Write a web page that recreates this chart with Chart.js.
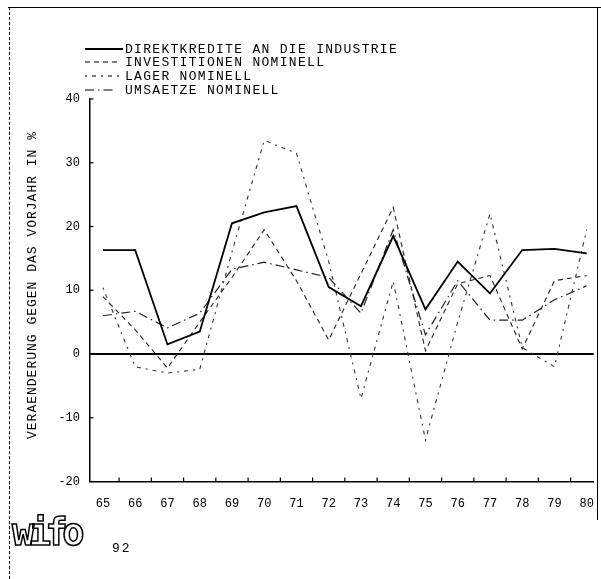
<!DOCTYPE html>
<html><head><meta charset="utf-8">
<script src="https://cdn.jsdelivr.net/npm/chart.js@4/dist/chart.umd.min.js"></script>
<style>
html,body{margin:0;padding:0;background:#fff;}
#wrap{position:relative;width:601px;height:579px;overflow:hidden;background:#fff;}
#c{position:absolute;left:0;top:0;}
.ft{position:absolute;left:8px;top:7px;width:593px;height:0;border-top:1.5px solid #000;}
.fl{position:absolute;left:9px;top:7px;width:0;height:572px;border-left:1px dashed #000;}
.fr{position:absolute;left:597px;top:7px;width:0;height:513px;border-left:1px solid #000;}
#logo{position:absolute;left:12px;top:511px;font:bold 37px "DejaVu Sans Mono";letter-spacing:-5.5px;color:#fff;-webkit-text-stroke:1.5px #000;line-height:44px;}
#page{position:absolute;left:112px;top:541px;font:13px "Liberation Mono";letter-spacing:2px;color:#000;line-height:16px;}
</style></head><body>
<div id="wrap">
<canvas id="c" width="601" height="579"></canvas>
<div class="ft"></div><div class="fl"></div><div class="fr"></div>
<div id="logo">wifo</div>
<div id="page">92</div>
</div>
<script>
// ---- data ----
const years = [1965,1966,1967,1968,1969,1970,1971,1972,1973,1974,1975,1976,1977,1978,1979,1980];
const xTickLabels = ['65','66','67','68','69','70','71','72','73','74','75','76','77','78','79','80'];
const yTickValues = [40,30,20,10,0,-10,-20];
const direktkredite = [16.3,16.3,1.5,3.5,20.5,22.2,23.2,10.5,7.5,18.5,7.0,14.5,9.5,16.3,16.5,15.8];
const investitionen = [9.0,3.8,-2.2,5.0,12.0,19.5,11.5,2.2,12.6,23.0,0.5,11.0,12.3,0.8,11.5,12.3];
const lager = [10.4,-2.0,-3.0,-2.4,16.0,33.5,31.5,14.5,-7.0,11.4,-13.5,5.0,22.0,1.0,-2.0,19.5];
const umsaetze = [6.0,6.7,4.1,6.4,13.3,14.4,13.2,12.0,6.4,19.5,3.0,11.5,5.3,5.3,8.5,10.7];
const seriesNames = ['DIREKTKREDITE AN DIE INDUSTRIE','INVESTITIONEN NOMINELL','LAGER NOMINELL','UMSAETZE NOMINELL'];
const yTitle = 'VERAENDERUNG GEGEN DAS VORJAHR IN %';

const pts = arr => arr.map((v,i)=>({x:years[i], y:v}));
const MONO = '"Liberation Mono", "DejaVu Sans Mono", monospace';

const decor = {
  id:'decor',
  afterDraw(chart){
    const ctx = chart.ctx, ca = chart.chartArea;
    const xs = chart.scales.x, ys = chart.scales.y;
    ctx.save();
    ctx.strokeStyle = '#000'; ctx.lineWidth = 1.2; ctx.setLineDash([]);
    // inward tick marks
    yTickValues.forEach(v=>{ const p = ys.getPixelForValue(v); ctx.beginPath(); ctx.moveTo(ca.left, p); ctx.lineTo(ca.left+3.5, p); ctx.stroke(); });
    for (let i=0;i<years.length-1;i++){ const p = xs.getPixelForValue(years[i]+0.5); ctx.beginPath(); ctx.moveTo(p, ca.bottom); ctx.lineTo(p, ca.bottom-4); ctx.stroke(); }
    // y title
    ctx.fillStyle = '#000';
    ctx.font = '13px ' + MONO;
    ctx.letterSpacing = '1px';
    ctx.textAlign = 'center'; ctx.textBaseline = 'middle';
    ctx.translate(33, 285); ctx.rotate(-Math.PI/2);
    ctx.fillText(yTitle, 0, 0);
    ctx.restore();
    // legend
    ctx.save();
    const rows = [49, 62, 76, 90];
    const ends = [123, 121, 121, 116];
    chart.data.datasets.forEach((ds,i)=>{
      ctx.strokeStyle = '#000'; ctx.lineWidth = ds.borderWidth;
      ctx.setLineDash(ds.borderDash || []);
      ctx.beginPath(); ctx.moveTo(85, rows[i]); ctx.lineTo(ends[i], rows[i]); ctx.stroke();
      ctx.setLineDash([]);
      ctx.fillStyle = '#000';
      ctx.font = '13px ' + MONO;
      ctx.letterSpacing = '1.3px';
      ctx.textAlign = 'left'; ctx.textBaseline = 'middle';
      ctx.fillText(seriesNames[i], 125, rows[i]+1);
    });
    ctx.restore();
  }
};

const X0 = 1965, PXPERYEAR = 32.33, LEFT = 90, RIGHT = 595, FIRSTPX = 103;
const xmin = X0 - (FIRSTPX-LEFT)/PXPERYEAR;
const xmax = X0 + (RIGHT-FIRSTPX)/PXPERYEAR;

new Chart(document.getElementById('c'), {
  type:'line',
  data:{ datasets:[
    {label:seriesNames[0], data:pts(direktkredite), borderColor:'#000', borderWidth:1.8, borderDash:[]},
    {label:seriesNames[1], data:pts(investitionen), borderColor:'#222', borderWidth:1.1, borderDash:[5,4]},
    {label:seriesNames[2], data:pts(lager), borderColor:'#333', borderWidth:1.1, borderDash:[2,5,4,5]},
    {label:seriesNames[3], data:pts(umsaetze), borderColor:'#222', borderWidth:1.2, borderDash:[9,4,1.5,4]}
  ]},
  options:{
    responsive:false, animation:false, devicePixelRatio:1,
    layout:{padding:{top:99, right:601-RIGHT, left:0, bottom:0}},
    elements:{point:{radius:0}, line:{tension:0, fill:false}},
    plugins:{legend:{display:false}, tooltip:{enabled:false}},
    scales:{
      x:{type:'linear', min:xmin, max:xmax,
        afterFit(s){ s.height = 579-481.5; },
        afterBuildTicks(s){ s.ticks = years.map(v=>({value:v})); },
        ticks:{autoSkip:false, maxRotation:0, padding:7, color:'#000', font:{family:MONO, size:12},
          callback:(v)=>{ const i = years.indexOf(v); return i>=0 ? xTickLabels[i] : ''; }},
        grid:{display:false},
        border:{display:true, color:'#000', width:1.5}
      },
      y:{min:-20, max:40,
        afterFit(s){ s.width = LEFT; },
        afterBuildTicks(s){ s.ticks = yTickValues.map(v=>({value:v})); },
        ticks:{padding:10, color:'#000', font:{family:MONO, size:12}},
        grid:{drawTicks:false, color:(c)=> c.tick && c.tick.value===0 ? '#000' : 'rgba(0,0,0,0)', lineWidth:(c)=> c.tick && c.tick.value===0 ? 2 : 0},
        border:{display:true, color:'#000', width:1.5}
      }
    }
  },
  plugins:[decor]
});
</script>
</body></html>
